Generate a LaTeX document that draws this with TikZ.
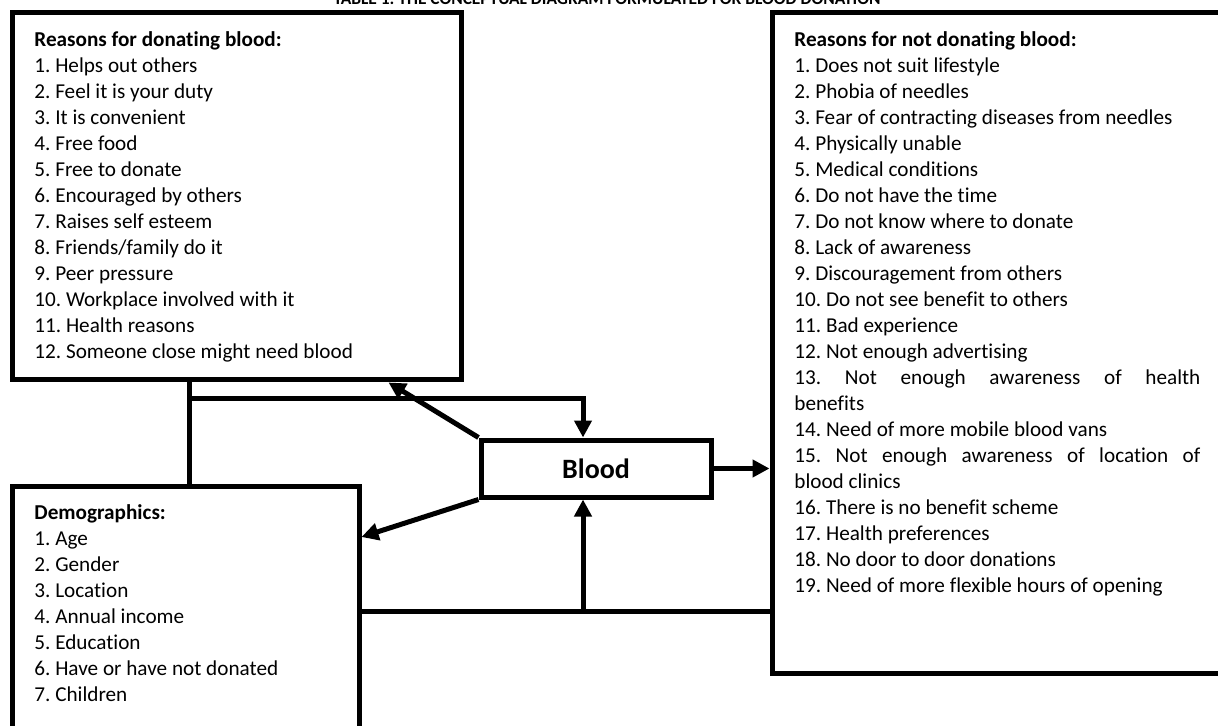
\documentclass[tikz,border=0pt]{standalone}
\usepackage{fontspec}
\setmainfont{Carlito}[Ligatures=NoCommon]
\usetikzlibrary{arrows.meta}
\frenchspacing

\begin{document}
\begin{tikzpicture}[
  x=0.5pt, y=-0.5pt,
  box/.style={rectangle, draw, line width=2.5pt, fill=white},
  list/.style={anchor=north west, inner sep=0pt, align=left, font=\fontsize{10.6}{13}\selectfont},
  conn/.style={line width=2.5pt},
  arrow/.style={conn, -{Triangle[length=8.5pt,width=8.5pt]}}
]
  \useasboundingbox (0,0) rectangle (1218,726);

  % Title, cut off by the top edge
  \node[font=\bfseries\fontsize{8.7}{10}\selectfont, anchor=base, inner sep=0pt] (title) at (607,5) {TABLE 1: THE CONCEPTUAL DIAGRAM FORMULATED FOR BLOOD DONATION};

  % Reasons for donating (top left)
  \node[box, minimum width=224.5pt, minimum height=183.5pt] (donate) at (236.5,196.5) {};
  \node[list] (donatelist) at ([xshift=12.25pt,yshift=-10.25pt]donate.north west) {\textbf{Reasons for donating blood:}\\
    1. Helps out others\\
    2. Feel it is your duty\\
    3. It is convenient\\
    4. Free food\\
    5. Free to donate\\
    6. Encouraged by others\\
    7. Raises self esteem\\
    8. Friends/family do it\\
    9. Peer pressure\\
    10. Workplace involved with it\\
    11. Health reasons\\
    12. Someone close might need blood};

  % Reasons for not donating (right, runs off the page)
  \node[box, minimum width=236.5pt, minimum height=330pt] (notdonate) at (1008.5,343) {};
  \node[list, text width=203pt, align=justify] (notdonatelist) at ([xshift=12.25pt,yshift=-10.25pt]notdonate.north west) {\textbf{Reasons for not donating blood:}\\
    1. Does not suit lifestyle\\
    2. Phobia of needles\\
    3. Fear of contracting diseases from needles\\
    4. Physically unable\\
    5. Medical conditions\\
    6. Do not have the time\\
    7. Do not know where to donate\\
    8. Lack of awareness\\
    9. Discouragement from others\\
    10. Do not see benefit to others\\
    11. Bad experience\\
    12. Not enough advertising\\
    13. Not enough awareness of health\linebreak benefits\\
    14. Need of more mobile blood vans\\
    15. Not enough awareness of location of\linebreak blood clinics\\
    16. There is no benefit scheme\\
    17. Health preferences\\
    18. No door to door donations\\
    19. Need of more flexible hours of opening};

  % Demographics (bottom left, runs off the page)
  \node[box, minimum width=173.5pt, minimum height=137pt] (demo) at (185.5,623) {};
  \node[list] (demolist) at ([xshift=12.25pt,yshift=-10.25pt]demo.north west) {\textbf{Demographics:}\\
    1. Age\\
    2. Gender\\
    3. Location\\
    4. Annual income\\
    5. Education\\
    6. Have or have not donated\\
    7. Children};

  % Centre
  \node[box, minimum width=115pt, minimum height=28.5pt, font=\bfseries\fontsize{14}{16}\selectfont] (blood) at (596,468.5) {Blood};

  % Junction points of the feedback lines
  \coordinate (split) at (189,398);
  \coordinate (base) at (583,611);

  % Lines into Blood
  \draw[conn] (split |- donate.south) -- (split |- demo.north);
  \draw[arrow] (split) -| ([xshift=-6.5pt]blood.north);
  \draw[conn] (demo.east |- base) -- (notdonate.west |- base);
  \draw[arrow] (base) -- (base |- blood.south);

  % Arrows out of Blood
  \draw[arrow] (blood.north west) -- ([xshift=76pt]donate.south);
  \draw[arrow] (blood.south west) -- ([yshift=43pt]demo.east);
  \draw[arrow] (blood.east) -- (blood.east -| notdonate.west);
\end{tikzpicture}
\end{document}
